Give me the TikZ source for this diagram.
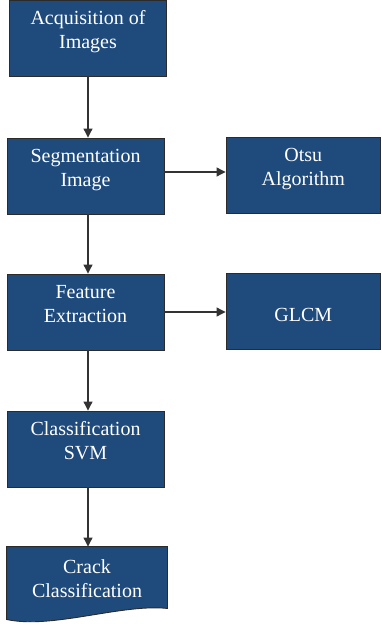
\documentclass[tikz,border=0pt]{standalone}
\usepackage{fontspec}
\setmainfont{Liberation Serif}
\usetikzlibrary{arrows.meta}
\usetikzlibrary{calc}
\definecolor{boxblue}{HTML}{1F4A7C}
\definecolor{boxedge}{HTML}{2B2B2B}

\begin{document}
\begin{tikzpicture}[x=1pt,y=-1pt,
stage/.style = {draw=boxedge, line width=0.9pt, fill=boxblue, text=white,
  align=center, inner sep=0pt, minimum width=157pt, minimum height=76pt,
  font=\fontsize{20}{24}\selectfont},
upper/.style = {text depth=17pt},
flow/.style = {draw=black!80, line width=1.1pt, -{Triangle[length=9pt,width=9pt]}}
]
\useasboundingbox (0,0) rectangle (381,628);

% main column
\node [stage,upper] (acq) at (88,38) {Acquisition of\\Images};
\node [stage,upper] (seg) at (85.5,176) {Segmentation\\Image};
\node [stage,upper] (feat) at (85.5,312) {Feature\\Extraction};
\node [stage,upper] (cls) at (85.5,449) {Classification\\SVM};

% side boxes
\node [stage,upper,minimum width=154.5pt] (otsu) at (303.25,175) {Otsu\\Algorithm};
\node [stage,minimum width=154.5pt,text height=21pt,text depth=0pt] (glcm) at (303.25,311) {GLCM};

% output as a document shape
\node [stage,draw=none,fill=none,minimum width=160pt,minimum height=72pt] (crackbox) at (87,583) {};
\draw [draw=boxedge, line width=0.9pt, fill=boxblue] (crackbox.north west)
  -- (crackbox.north east)
  -- ($ (crackbox.south east) + (0,-11) $)
  .. controls ($ (crackbox.south east) + (-45,-16) $) and ($ (crackbox.south west) + (45,10) $) .. (crackbox.south west)
  -- cycle;
\node [stage,draw=none,fill=none,minimum width=160pt,minimum height=72pt,text depth=9pt] (crack) at (crackbox) {Crack\\Classification};

\draw [flow] (acq.south) -- (acq.south |- seg.north);
\draw [flow] (acq.south |- seg.south) -- (acq.south |- feat.north);
\draw [flow] (acq.south |- feat.south) -- (acq.south |- cls.north);
\draw [flow] (acq.south |- cls.south) -- (acq.south |- crack.north);
\draw [flow] ($ (seg.east) + (0,-4) $) -- ($ (seg.east -| otsu.west) + (0,-4) $);
\draw [flow] (feat.east) -- (feat.east -| glcm.west);

\end{tikzpicture}
\end{document}
